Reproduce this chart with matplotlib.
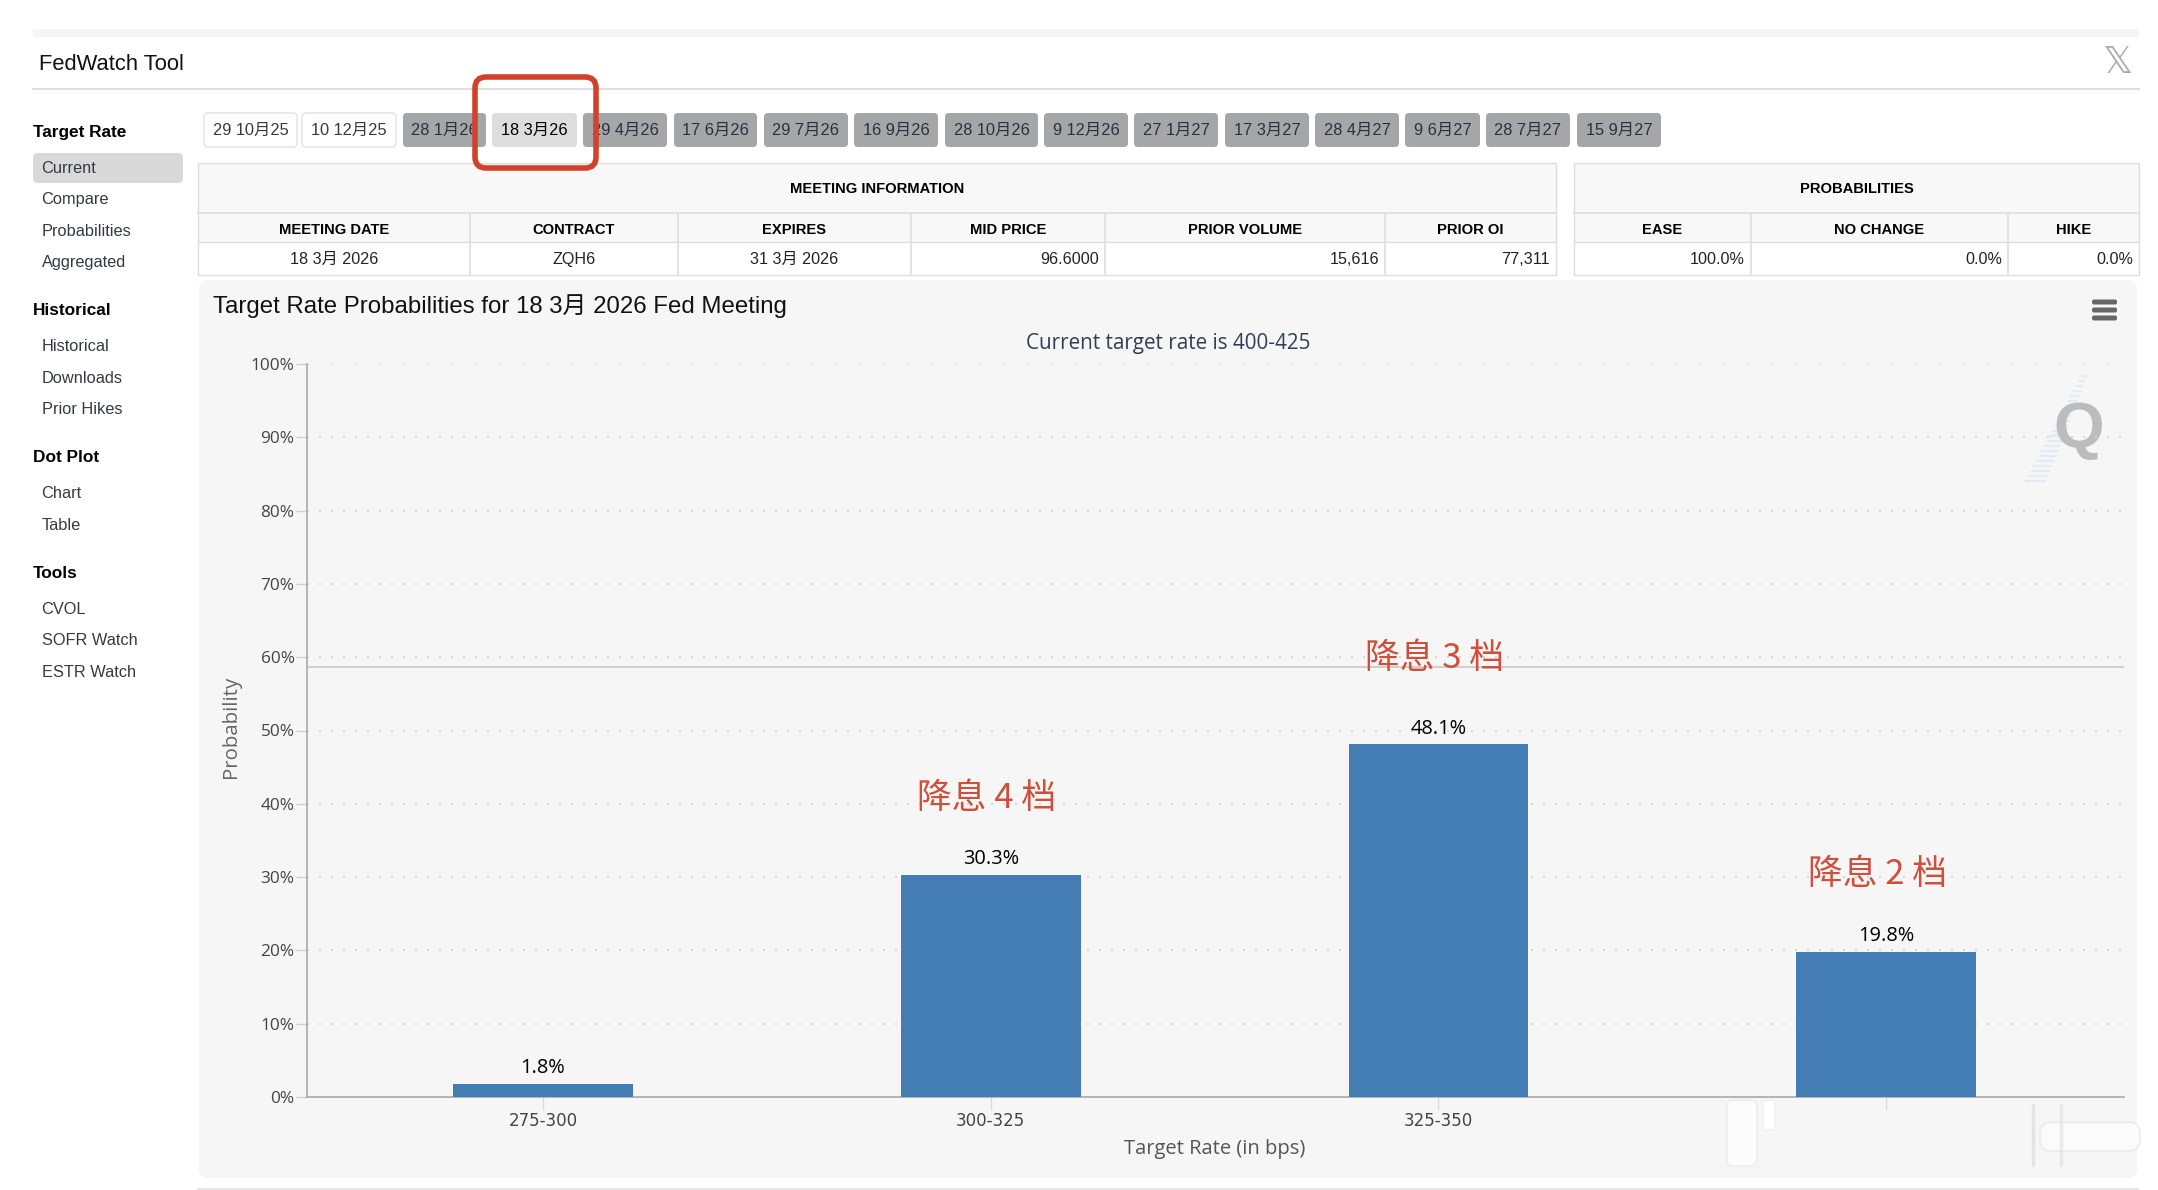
#!/usr/bin/env python3
# -*- coding: utf-8 -*-
import matplotlib
matplotlib.use('Agg')
import matplotlib.pyplot as plt
from matplotlib.patches import FancyBboxPatch, Rectangle

# data
categories = ['275-300', '300-325', '325-350', '']
probabilities = [1.8, 30.3, 48.1, 19.8]
bar_notes = ['', '降息 4 档', '降息 3 档', '降息 2 档']
note_levels = [0, 40.7, 59.8, 30.3]
y_ticks = [0, 10, 20, 30, 40, 50, 60, 70, 80, 90, 100]
crosshair_value = 58.7

meetings = ['29 10月25', '10 12月25', '28 1月26', '18 3月26', '29 4月26', '17 6月26',
            '29 7月26', '16 9月26', '28 10月26', '9 12月26', '27 1月27', '17 3月27',
            '28 4月27', '9 6月27', '28 7月27', '15 9月27']
info_head = ['MEETING DATE', 'CONTRACT', 'EXPIRES', 'MID PRICE', 'PRIOR VOLUME', 'PRIOR OI']
info_vals = ['18 3月 2026', 'ZQH6', '31 3月 2026', '96.6000', '15,616', '77,311']
prob_head = ['EASE', 'NO CHANGE', 'HIKE']
prob_vals = ['100.0%', '0.0%', '0.0%']
menu_heads = ['Target Rate', 'Historical', 'Dot Plot', 'Tools']
menu_items = ['Current', 'Compare', 'Probabilities', 'Aggregated', 'Historical', 'Downloads',
              'Prior Hikes', 'Chart', 'Table', 'CVOL', 'SOFR Watch', 'ESTR Watch']

# page layout, in pixels of the screenshot
W, H = 2158, 1190
btn_x = [(204, 297), (302, 396), (403, 486), (492, 577), (583, 667), (674, 757),
         (764, 848), (854, 938), (945, 1038), (1044, 1128), (1134, 1218), (1225, 1309),
         (1315, 1399), (1405, 1480), (1486, 1570), (1577, 1661)]
head_y = [131, 309, 456, 572]
item_y = [167, 198, 230, 261, 345, 377, 408, 492, 524, 608, 639, 671]
info_cols = [198, 470, 678, 911, 1105, 1385, 1556]
prob_cols = [1574, 1751, 2008, 2139]
note_shift = [0, -0.01, -0.01, -0.02]

UI = ['Liberation Sans', 'Noto Sans CJK SC']
CH = ['Open Sans', 'Noto Sans CJK SC']
LINE = '#dedede'

fig = plt.figure(figsize=(W / 100, H / 100), dpi=100, facecolor='white')

page = fig.add_axes([0, 0, 1, 1], zorder=0)
page.set_xlim(0, W)
page.set_ylim(H, 0)
page.axis('off')


def box(ax, x0, y0, x1, y1, fc, ec='none', lw=0, r=0, z=1):
    if r:
        p = FancyBboxPatch((x0 + r, y0 + r), x1 - x0 - 2 * r, y1 - y0 - 2 * r,
                           boxstyle='round,pad=%g,rounding_size=%g' % (r, r),
                           fc=fc, ec=ec, lw=lw, zorder=z)
    else:
        p = Rectangle((x0, y0), x1 - x0, y1 - y0, fc=fc, ec=ec, lw=lw, zorder=z)
    ax.add_patch(p)


def label(x, y, s, size, color='#222222', ha='left', weight='normal', family=UI, z=3):
    page.text(x, y + 1.5, s, fontsize=size, color=color, ha=ha, va='center',
              fontweight=weight, family=family, zorder=z)


# top strip
box(page, 33, 29, 2139, 37, '#f5f5f5')
page.plot([33, 2139], [89, 89], color=LINE, lw=1.4)
page.plot([198, 2138], [1189, 1189], color='#e6e6e6', lw=1.4)
label(39, 63, 'FedWatch Tool', 15.8, color='#111111')
page.text(2117, 63, '\U0001D54F', fontsize=27, color='#a9adb2', ha='center', va='center',
          family='DejaVu Sans')

# side menu
box(page, 33, 153, 183, 183, '#d9d9d9', r=5)
for s, y in zip(menu_heads, head_y):
    label(33, y, s, 12.4, color='#000000', weight='bold')
for s, y in zip(menu_items, item_y):
    label(41.5, y, s, 11.8, color='#333a44')

# meeting buttons
for i, (s, (x0, x1)) in enumerate(zip(meetings, btn_x)):
    if i < 2:
        box(page, x0, 113, x1, 147, 'white', ec='#e2e2e2', lw=1, r=4)
        c = '#333a44'
    elif i == 3:
        box(page, x0, 113, x1, 147, '#dddddd', r=4)
        c = '#000000'
    else:
        box(page, x0, 113, x1, 147, '#a5a6a7', r=4)
        c = '#27323f'
    label((x0 + x1) / 2, 129, s, 11.8, color=c, ha='center')

# red highlight around the selected meeting
box(page, 475, 77, 596, 168, 'none', ec='#d2412d', lw=4, r=11, z=5)


def draw_table(cols, title, heads, vals, right_from):
    box(page, cols[0], 163, cols[-1], 242, '#f8f8f8', ec=LINE, lw=1)
    box(page, cols[0], 242, cols[-1], 275, 'white', ec=LINE, lw=1)
    page.plot([cols[0], cols[-1]], [213, 213], color=LINE, lw=1.2, zorder=2)
    label((cols[0] + cols[-1]) / 2, 187.5, title, 10.6, color='#000000', ha='center', weight='bold')
    for i in range(len(heads)):
        x0, x1 = cols[i], cols[i + 1]
        if i > 0:
            page.plot([x0, x0], [213, 275], color=LINE, lw=1.2, zorder=2)
        label((x0 + x1) / 2, 228, heads[i], 10.6, color='#000000', ha='center', weight='bold')
        if i >= right_from:
            label(x1 - 6, 258, vals[i], 11.6, ha='right')
        else:
            label((x0 + x1) / 2, 258, vals[i], 11.6, ha='center')


draw_table(info_cols, 'MEETING INFORMATION', info_head, info_vals, 3)
draw_table(prob_cols, 'PROBABILITIES', prob_head, prob_vals, 0)

# chart panel
box(page, 199, 280, 2137, 1178, '#f6f6f6', r=8)
label(213, 305, 'Target Rate Probabilities for 18 3月 2026 Fed Meeting', 17.25, color='#111111')
label(1168, 342, 'Current target rate is 400-425', 14.9, color='#2f3f57', ha='center', family=CH)
for y in (302, 310, 318):
    box(page, 2092, y - 2.5, 2117, y + 2.5, '#666666', r=2, z=3)

# watermark
for i in range(22):
    yy = 376 + i * 5
    xx = 2084 - i * 2.3
    page.plot([xx - 2 - i * 0.35, xx + 2 + i * 0.35], [yy, yy], color='#e0ebf3', lw=1.6, zorder=2)
page.text(2079, 431, 'Q', fontsize=47, fontweight='bold', color='#babcbe', ha='center', va='center',
          family='Liberation Sans', zorder=2)

# the chart itself
left, right, top, bottom = 307, 2124, 364, 1097
ax = fig.add_axes([left / W, 1 - bottom / H, (right - left) / W, (bottom - top) / H], zorder=1)
ax.patch.set_alpha(0)
xpos = list(range(len(probabilities)))
ax.bar(xpos, probabilities, width=0.401, color='#447db3', zorder=3)
ax.set_xlim(-0.527, 3.531)
ax.set_ylim(0, 100)
ax.set_yticks(y_ticks)
ax.set_yticklabels(['%d%%' % v for v in y_ticks], fontsize=12.4, color='#444444', family=CH)
ax.set_xticks(xpos)
ax.set_xticklabels(categories, fontsize=12, color='#444444', family='DejaVu Sans')
ax.tick_params(axis='y', length=8, width=1, color='#cfcfcf', pad=1)
ax.tick_params(axis='x', length=9.4, width=1, color='#dadada', pad=1.5)
ax.grid(axis='y', color='#d0d0d0', lw=1.2, linestyle=(0, (1.2, 6)), zorder=1)
ax.set_axisbelow(True)
for s in ('top', 'right'):
    ax.spines[s].set_visible(False)
for s in ('left', 'bottom'):
    ax.spines[s].set_color('#aaaaaa')
    ax.spines[s].set_linewidth(1.2)
ax.axhline(crosshair_value, color='#c8c8c8', lw=1.2, zorder=2)
ax.set_xlabel('Target Rate (in bps)', fontsize=14.5, color='#555555', family=CH)
ax.xaxis.set_label_coords(0.4997, -0.0575)
ax.set_ylabel('Probability', fontsize=14.7, color='#666666', family=CH)
ax.yaxis.set_label_coords(-0.0365, 0.505)

for x, v in zip(xpos, probabilities):
    ax.annotate('%.1f%%' % v, (x, v), xytext=(0, 4.2), textcoords='offset points', ha='center',
                va='bottom', fontsize=14.4, color='#000000', family=CH, zorder=4)
for x, s, v, d in zip(xpos, bar_notes, note_levels, note_shift):
    if s:
        ax.text(x + d, v, s, fontsize=25, color='#cf4f3a', ha='center', va='center',
                family=['Noto Sans CJK SC', 'DejaVu Sans'], zorder=4)

# erased corner of the screenshot
over = fig.add_axes([0, 0, 1, 1], zorder=2)
over.set_xlim(0, W)
over.set_ylim(H, 0)
over.axis('off')
box(over, 1727, 1100, 1757, 1166, '#fcfcfc', ec='#efefef', lw=1.5, r=6)
box(over, 1763, 1100, 1775, 1130, '#ffffff', ec='#f2f2f2', lw=1.5, r=2)
box(over, 2040, 1122, 2140, 1151, '#fbfbfb', ec='#ebebeb', lw=1.2, r=12)
over.plot([2033, 2033], [1105, 1165], color='#d8d8d8', lw=2.5, alpha=0.6, solid_capstyle='round')
over.plot([2061, 2061], [1105, 1165], color='#e0e0e0', lw=2.5, alpha=0.6, solid_capstyle='round')

fig.savefig('out.png', dpi=100)
